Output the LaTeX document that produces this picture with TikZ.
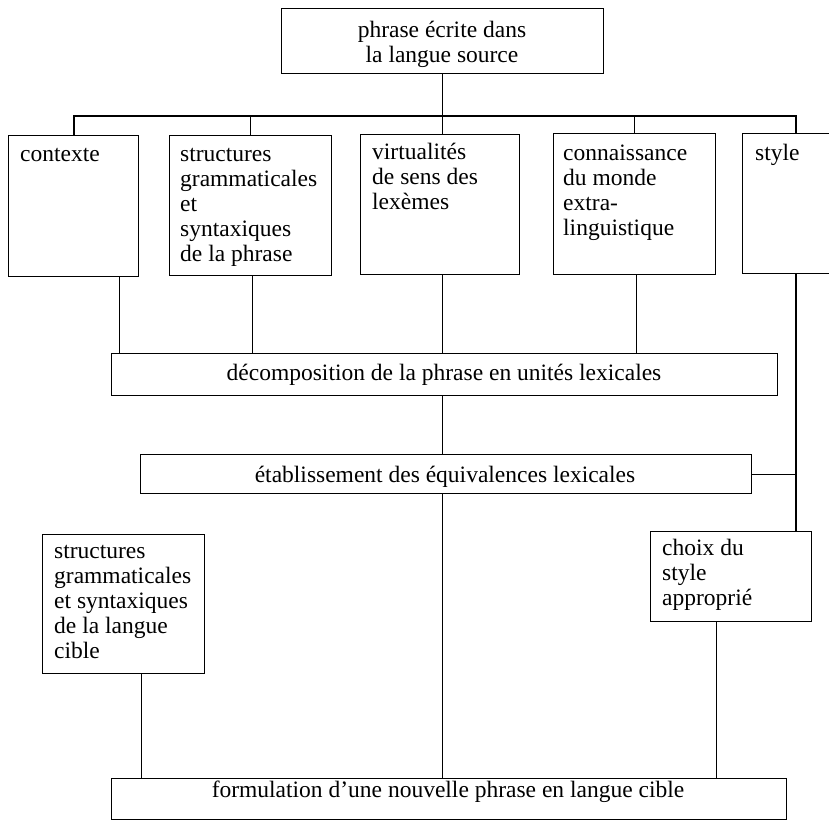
\documentclass[tikz,border=0pt]{standalone}
\usepackage{fontspec}
\setmainfont{Liberation Serif}
\begin{document}
\begin{tikzpicture}[x=1pt,y=-1pt,
  box/.style={draw, line width=1.2pt, rectangle, inner sep=0pt, anchor=north west},
  conn/.style={line width=1.1pt},
  lbl/.style={inner sep=0pt, font=\fontsize{23.5}{25}\selectfont, align=left, anchor=north west},
  clbl/.style={inner sep=0pt, font=\fontsize{23.5}{25}\selectfont, align=center, anchor=north},
  slbl/.style={inner sep=0pt, font=\fontsize{23.5}{25}\selectfont, anchor=base}]
\useasboundingbox (0,0) rectangle (829,820);
\clip (0,0) rectangle (829,820);
% boxes
\node[box, minimum width=322pt, minimum height=65pt] (T) at (281,8) {};
\node[box, minimum width=130pt, minimum height=141pt] (B1) at (8,135) {};
\node[box, minimum width=162pt, minimum height=140pt] (B2) at (169,135) {};
\node[box, minimum width=159pt, minimum height=140pt] (B3) at (360,134) {};
\node[box, minimum width=162pt, minimum height=141pt] (B4) at (553,133) {};
\node[box, minimum width=120pt, minimum height=140pt] (B5) at (742,133) {};
\node[box, minimum width=666pt, minimum height=42pt] (D) at (111,353) {};
\node[box, minimum width=611pt, minimum height=39pt] (E) at (140,454) {};
\node[box, minimum width=162pt, minimum height=139pt] (L) at (42,534) {};
\node[box, minimum width=161pt, minimum height=90pt] (C) at (650,531) {};
\node[box, minimum width=675pt, minimum height=41pt] (F) at (111,778) {};
% texts
\node[clbl] (tT) at (442,20) {\rule{0pt}{17pt}phrase écrite dans\\la langue source};
\node[lbl] (tB1) at (20,144) {\rule{0pt}{17pt}contexte};
\node[lbl] (tB2) at (180,144) {\rule{0pt}{17pt}structures\\grammaticales\\et\\syntaxiques\\de la phrase};
\node[lbl] (tB3) at (372,142) {\rule{0pt}{17pt}virtualités\\de sens des\\lexèmes};
\node[lbl] (tB4) at (563,143) {\rule{0pt}{17pt}connaissance\\du monde\\extra-\\linguistique};
\node[lbl] (tB5) at (755,143) {\rule{0pt}{17pt}style};
\node[slbl] (tD) at (444,380) {décomposition de la phrase en unités lexicales};
\node[slbl] (tE) at (445,482) {établissement des équivalences lexicales};
\node[lbl] (tL) at (54,541) {\rule{0pt}{17pt}structures\\grammaticales\\et syntaxiques\\de la langue\\cible};
\node[lbl] (tC) at (662,538) {\rule{0pt}{17pt}choix du\\style\\approprié};
\node[slbl] (tF) at (448,797) {formulation d’une nouvelle phrase en langue cible};
% connectors
\coordinate (busL) at (74,116);
\coordinate (busR) at (796,116);
\draw[conn] (T.south) -- (T.south |- B3.north);
\draw[conn] (busL |- B1.north) -- (busL) -- (busR) -- (busR |- B5.north);
\draw[conn] (B2.north) -- (B2.north |- busL);
\draw[conn] (B4.north) -- (B4.north |- busL);
\draw[conn] ([xshift=-20pt]B1.south east) -- ([xshift=-20pt]B1.south east |- D.north);
\draw[conn] ([xshift=2pt]B2.south) -- ([xshift=2pt]B2.south |- D.north);
\draw[conn] (T.south |- B3.south) -- (T.south |- D.north);
\draw[conn] ([xshift=2pt]B4.south) -- ([xshift=2pt]B4.south |- D.north);
\draw[conn] (busR |- B5.south) -- (busR |- C.north);
\draw[conn] (E.east) -- (E.east -| busR);
\draw[conn] (T.south |- D.south) -- (T.south |- E.north);
\draw[conn] (T.south |- E.south) -- (T.south |- F.north);
\draw[conn] ([xshift=-64pt]L.south east) -- ([xshift=-64pt]L.south east |- F.north);
\draw[conn] ([xshift=-96pt]C.south east) -- ([xshift=-96pt]C.south east |- F.north);
\end{tikzpicture}
\end{document}
